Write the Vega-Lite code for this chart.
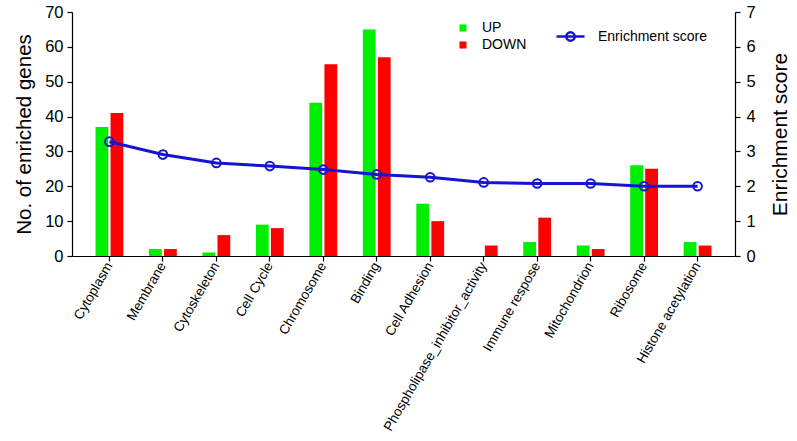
{
  "$schema": "https://vega.github.io/schema/vega-lite/v6.json",
  "autosize": {"type": "none"},
  "width": 663,
  "height": 244,
  "padding": {"left": 72, "top": 12, "right": 62, "bottom": 185},
  "config": {
    "font": "Liberation Sans",
    "view": {"stroke": null},
    "axis": {"domainColor": "black", "tickColor": "black", "labelColor": "black", "titleColor": "black", "grid": false, "titleFontWeight": "normal", "domainWidth": 1.2, "tickWidth": 1.2}
  },
  "datasets": {
    "genes": [
      {"category": "Cytoplasm", "group": "UP", "count": 37},
      {"category": "Cytoplasm", "group": "DOWN", "count": 41},
      {"category": "Membrane", "group": "UP", "count": 2},
      {"category": "Membrane", "group": "DOWN", "count": 2},
      {"category": "Cytoskeleton", "group": "UP", "count": 1},
      {"category": "Cytoskeleton", "group": "DOWN", "count": 6},
      {"category": "Cell Cycle", "group": "UP", "count": 9},
      {"category": "Cell Cycle", "group": "DOWN", "count": 8},
      {"category": "Chromosome", "group": "UP", "count": 44},
      {"category": "Chromosome", "group": "DOWN", "count": 55},
      {"category": "Binding", "group": "UP", "count": 65},
      {"category": "Binding", "group": "DOWN", "count": 57},
      {"category": "Cell Adhesion", "group": "UP", "count": 15},
      {"category": "Cell Adhesion", "group": "DOWN", "count": 10},
      {"category": "Phospholipase_inhibitor_activity", "group": "UP", "count": 0},
      {"category": "Phospholipase_inhibitor_activity", "group": "DOWN", "count": 3},
      {"category": "Immune respose", "group": "UP", "count": 4},
      {"category": "Immune respose", "group": "DOWN", "count": 11},
      {"category": "Mitochondrion", "group": "UP", "count": 3},
      {"category": "Mitochondrion", "group": "DOWN", "count": 2},
      {"category": "Ribosome", "group": "UP", "count": 26},
      {"category": "Ribosome", "group": "DOWN", "count": 25},
      {"category": "Histone acetylation", "group": "UP", "count": 4},
      {"category": "Histone acetylation", "group": "DOWN", "count": 3}
    ],
    "scores": [
      {"category": "Cytoplasm", "score": 3.28},
      {"category": "Membrane", "score": 2.91},
      {"category": "Cytoskeleton", "score": 2.67},
      {"category": "Cell Cycle", "score": 2.58},
      {"category": "Chromosome", "score": 2.48},
      {"category": "Binding", "score": 2.34},
      {"category": "Cell Adhesion", "score": 2.26},
      {"category": "Phospholipase_inhibitor_activity", "score": 2.11},
      {"category": "Immune respose", "score": 2.08},
      {"category": "Mitochondrion", "score": 2.08},
      {"category": "Ribosome", "score": 2.0},
      {"category": "Histone acetylation", "score": 2.0}
    ]
  },
  "encoding": {
    "x": {
      "field": "category", "type": "nominal",
      "scale": {"domain": ["Cytoplasm", "Membrane", "Cytoskeleton", "Cell Cycle", "Chromosome", "Binding", "Cell Adhesion", "Phospholipase_inhibitor_activity", "Immune respose", "Mitochondrion", "Ribosome", "Histone acetylation"], "paddingInner": 0.48, "paddingOuter": 0.44},
      "axis": {"title": null, "labelAngle": -60, "labelFontSize": 13.5, "labelLimit": 400, "tickSize": 5, "labelPadding": 2}
    }
  },
  "layer": [
    {
      "data": {"name": "genes"},
      "mark": {"type": "bar"},
      "encoding": {
        "xOffset": {"field": "group", "type": "nominal", "scale": {"domain": ["UP", "DOWN"], "paddingInner": 0.15}},
        "y": {
          "field": "count", "type": "quantitative",
          "scale": {"domain": [0, 70]},
          "axis": {"title": "No. of enriched genes", "values": [0, 10, 20, 30, 40, 50, 60, 70], "labelFontSize": 16.5, "titleFontSize": 20.5, "tickSize": 5, "labelPadding": 4, "titlePadding": 10}
        },
        "color": {
          "field": "group", "type": "nominal",
          "scale": {"domain": ["UP", "DOWN"], "range": ["#00ee00", "#ff0000"]},
          "legend": {"title": null, "orient": "none", "legendX": 384, "legendY": 9, "symbolType": "square", "symbolSize": 50, "labelFontSize": 14, "labelColor": "black", "rowPadding": 3, "labelOffset": 12}
        }
      }
    },
    {
      "data": {"name": "scores"},
      "mark": {"type": "line", "strokeWidth": 3, "point": {"filled": false, "size": 75, "strokeWidth": 2, "color": "#1414d2"}},
      "encoding": {
        "y": {
          "field": "score", "type": "quantitative",
          "scale": {"domain": [0, 7]},
          "axis": {"orient": "right", "title": "Enrichment score", "values": [0, 1, 2, 3, 4, 5, 6, 7], "labelFontSize": 16.5, "titleFontSize": 21, "tickSize": 5, "labelPadding": 6, "titleAngle": -90, "titleBaseline": "top", "titlePadding": 14}
        },
        "stroke": {
          "datum": "Enrichment score",
          "scale": {"range": ["#1414d2"]},
          "legend": {"title": null, "orient": "none", "legendX": 483, "legendY": 9, "symbolType": "M-1,0L1,0M-0.3,0A0.3,0.3,0,1,1,0.3,0A0.3,0.3,0,1,1,-0.3,0", "symbolSize": 784, "symbolStrokeWidth": 2.5, "symbolFillColor": "transparent", "labelFontSize": 14, "labelColor": "black", "labelOffset": 12}
        }
      }
    }
  ],
  "resolve": {"scale": {"y": "independent"}}
}
